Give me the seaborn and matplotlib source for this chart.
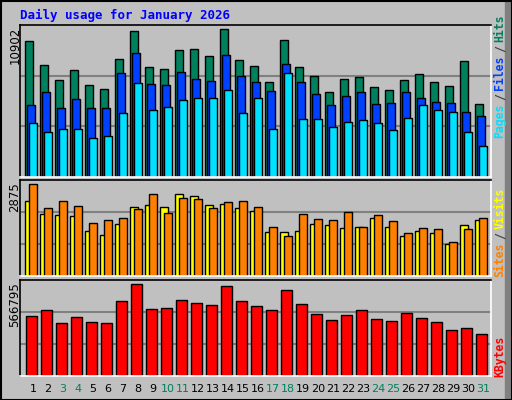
import numpy as np
import pandas as pd
import matplotlib
matplotlib.use("Agg")
import matplotlib.pyplot as plt
import seaborn as sns
from matplotlib.patches import Rectangle

days = list(range(1, 32))
weekend_days = [3, 4, 10, 11, 17, 18, 24, 25, 31]

hits = [9728, 8003, 6925, 7644, 6565, 6278, 8434, 10447, 7859, 7715, 9081, 9153, 8650, 10590, 8362, 7931,
        6781, 9800, 7859, 7212, 6062, 6996, 7140, 6421, 6206, 6925, 7356, 6781, 6493, 8290, 5271]
files = [5199, 6062, 4984, 5559, 4984, 4984, 7428, 8865, 6637, 6565, 7499, 6996, 6853, 8721, 7212, 6781,
         6134, 8075, 6781, 5918, 5199, 5774, 6062, 5271, 5343, 6062, 5702, 5415, 5343, 4696, 4409]
pages = [3905, 3259, 3474, 3474, 2827, 2971, 4624, 6709, 4840, 5056, 5487, 5702, 5631, 6206, 4624, 5631,
         3474, 7428, 4193, 4193, 3618, 3977, 4121, 3905, 3402, 4265, 5199, 4840, 4696, 3259, 2252]
visits = [2246, 1856, 1826, 1796, 1347, 1228, 1557, 2066, 2126, 2066, 2455, 2395, 2126, 2156, 2036, 1946,
          1317, 1317, 1347, 1557, 1527, 1437, 1467, 1737, 1467, 1198, 1347, 1287, 958, 1527, 1677]
sites = [2754, 2036, 2246, 2096, 1587, 1677, 1737, 2006, 2455, 1886, 2335, 2305, 2036, 2216, 2246, 2066,
         1467, 1198, 1856, 1707, 1677, 1916, 1467, 1826, 1647, 1287, 1437, 1407, 1018, 1407, 1737]
kbytes = [352760, 388430, 311140, 346810, 317090, 311140, 441940, 543020, 394380, 400320, 447890, 430050,
          418160, 531120, 441940, 412210, 388430, 507340, 424110, 364650, 328980, 358710, 388430, 334920,
          323030, 370600, 340870, 317090, 269520, 281410, 245740]

max_hits = 10902
max_sites = 2875
max_kbytes = 566795

BG = "#C0C0C0"
C_HITS, C_FILES, C_PAGES = "#00805C", "#0040FF", "#00E0FF"
C_VISITS, C_SITES, C_KB = "#FFFF00", "#FF8000", "#FF0000"
W, H = 512, 400

sns.set_theme(style="white")
plt.rcParams["font.family"] = ["DejaVu Sans Mono"]

fig = plt.figure(figsize=(W / 100, H / 100), dpi=100, facecolor=BG)


def add_axes(top, bottom):
    ax = fig.add_axes([20 / W, (H - bottom) / H, 471 / W, (bottom - top) / H])
    ax.set_facecolor(BG)
    return ax


def draw(ax, vals, color, off, width):
    n = len(ax.patches)
    sns.barplot(x=days, y=vals, native_scale=True, color=color, edgecolor="black",
                linewidth=1, errorbar=None, saturation=1, ax=ax)
    for d, p in zip(days, ax.patches[n:]):
        p.set_x(d - 0.5 + off)
        p.set_width(width)


def finish(ax, ymax, label):
    ax.set_xlim(0.147, 31.55)
    ax.set_ylim(0, ymax)
    for k in (1, 2):
        ax.axhline(ymax * k / 3, color="#808080", lw=1.5, zorder=0)
    ax.set_xticks([])
    ax.set_yticks([])
    ax.set_xlabel("")
    ax.set_ylabel("")
    for s in ("top", "left"):
        ax.spines[s].set_color("black")
    for s in ("bottom", "right"):
        ax.spines[s].set_color("white")
    for s in ax.spines.values():
        s.set_linewidth(1.2)
    pos = ax.get_position()
    fig.text(15 / W, pos.y1 - 2 / H, label, rotation=90, ha="center", va="top",
             fontsize=8.5, color="black", family="DejaVu Sans")


ax1 = add_axes(25, 177)
draw(ax1, hits, C_HITS, 0.0, 0.49)
draw(ax1, files, C_FILES, 0.13, 0.49)
draw(ax1, pages, C_PAGES, 0.27, 0.49)
finish(ax1, max_hits, str(max_hits))

ax2 = add_axes(180, 276)
draw(ax2, visits, C_VISITS, 0.0, 0.49)
draw(ax2, sites, C_SITES, 0.27, 0.49)
finish(ax2, max_sites, str(max_sites))

ax3 = add_axes(280, 376)
draw(ax3, kbytes, C_KB, 0.07, 0.69)
finish(ax3, max_kbytes, str(max_kbytes))

# day labels
for d in days:
    x = (25.3 + (d - 1) * 15 + 7.7) / W
    fig.text(x, 1 - 389 / H, str(d), ha="center", va="center", fontsize=8,
             color=C_HITS if d in weekend_days else "black", family="DejaVu Sans")

# right side legends, built from bottom up
def legend(parts, y_bottom):
    y = y_bottom
    for txt, col in parts:
        fig.text(500 / W, 1 - y / H, txt, rotation=90, ha="center", va="bottom",
                 fontsize=8.3, color=col, fontweight="bold")
        y -= len(txt) * 7 + 3

legend([("Pages", C_PAGES), ("/", "#404040"), ("Files", C_FILES), ("/", "#404040"), ("Hits", C_HITS)], 138)
legend([("Sites", C_SITES), ("/", "#404040"), ("Visits", C_VISITS)], 277)
legend([("KBytes", C_KB)], 377)

fig.text(20 / W, 1 - 15 / H, "Daily usage for January 2026", ha="left", va="center",
         fontsize=9, color="#0000FF", fontweight="bold")

# frame
fig.patches.append(Rectangle((505 / W, 0), 7 / W, 1, transform=fig.transFigure,
                             color="#808080", zorder=-1))
fig.patches.append(Rectangle((0, 0), 6 / W, 1, transform=fig.transFigure,
                             fill=False, edgecolor="white", lw=0, zorder=-1))
fig.patches.append(Rectangle((0.5 / W, 0.5 / H), 1 - 1 / W, 1 - 1 / H, transform=fig.transFigure,
                             fill=False, edgecolor="black", lw=1.5))

fig.savefig("out.png", dpi=100, facecolor=BG)
